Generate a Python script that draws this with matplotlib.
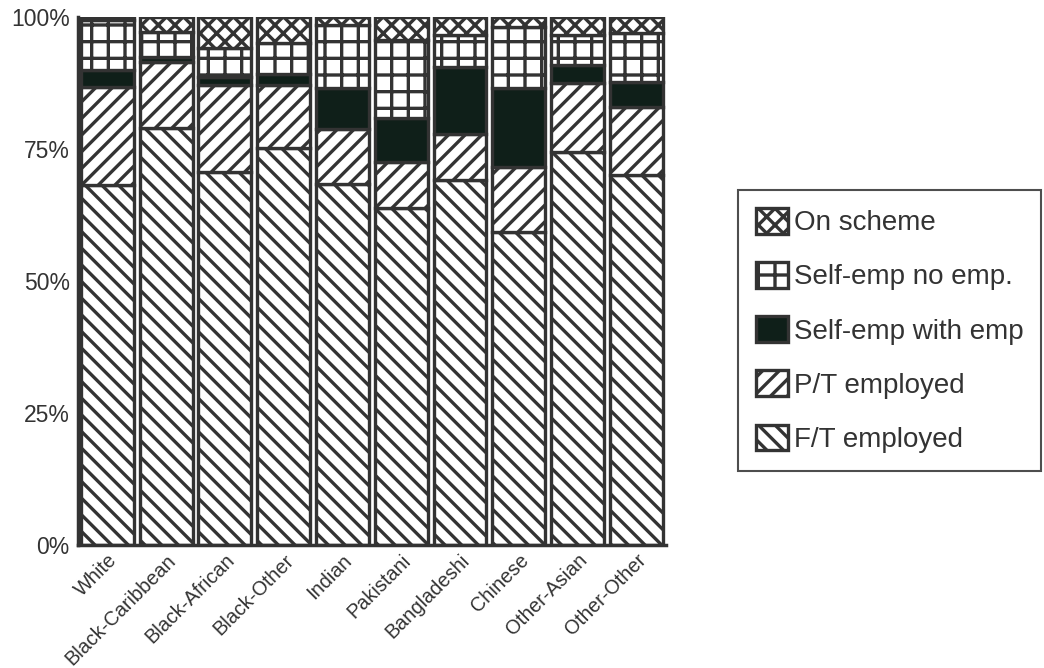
import matplotlib
matplotlib.use("Agg")
import matplotlib.pyplot as plt
import numpy as np

plt.rcParams['font.family'] = ['Liberation Sans', 'DejaVu Sans']
plt.rcParams['hatch.linewidth'] = 2.4

groups = ["White", "Black-Caribbean", "Black-African", "Black-Other", "Indian",
          "Pakistani", "Bangladeshi", "Chinese", "Other-Asian", "Other-Other"]

# percentages, bottom to top
ft_employed = [68.2, 79.0, 70.6, 75.2, 68.4, 63.8, 69.2, 59.3, 74.5, 70.1]
pt_employed = [18.5, 12.5, 16.5, 11.9, 10.4, 8.7, 8.6, 12.3, 13.0, 12.9]
selfemp_with = [3.3, 0.9, 1.5, 2.1, 7.8, 8.4, 12.7, 15.0, 3.4, 4.7]
selfemp_no = [9.5, 4.8, 5.5, 5.9, 11.9, 14.7, 6.1, 11.5, 5.7, 9.3]
on_scheme = [0.5, 2.8, 5.9, 4.9, 1.5, 4.4, 3.4, 1.9, 3.4, 3.0]

series = [
    ("F/T employed", ft_employed, "white", "\\\\"),
    ("P/T employed", pt_employed, "white", "//"),
    ("Self-emp with emp", selfemp_with, "#0f1f19", ""),
    ("Self-emp no emp.", selfemp_no, "white", "+"),
    ("On scheme", on_scheme, "white", "xx"),
]

edge = "#333333"
fig = plt.figure(figsize=(10.44, 6.68), dpi=100)
ax = fig.add_axes([0.0747, 0.184, 0.563, 0.7906])

x = np.arange(len(groups))
bottom = np.zeros(len(groups))
handles = []
for label, vals, fc, hatch in series:
    vals = np.array(vals)
    b = ax.bar(x, vals, 0.9, bottom=bottom, color=fc, edgecolor=edge,
               hatch=hatch, linewidth=2.4, label=label)
    handles.append(b)
    bottom += vals

ax.set_xlim(-0.5, len(groups) - 0.5)
ax.set_ylim(0, 100)
ax.set_yticks([0, 25, 50, 75, 100])
ax.set_yticklabels(["0%", "25%", "50%", "75%", "100%"], fontsize=16.5, color="#333333")
ax.set_xticks(x)
ax.set_xticklabels(groups, rotation=45, ha="right", rotation_mode="anchor",
                   fontsize=14.3, color="#333333")
ax.tick_params(axis="x", length=0, pad=4)
ax.tick_params(axis="y", length=0, pad=6)
for s in ["top", "right"]:
    ax.spines[s].set_visible(False)
for s in ["left", "bottom"]:
    ax.spines[s].set_linewidth(2.5)
    ax.spines[s].set_color(edge)

leg = fig.legend(handles[::-1], [s[0] for s in series][::-1],
                 loc="upper left", bbox_to_anchor=(0.707, 0.716),
                 fontsize=20, frameon=True, fancybox=False,
                 handlelength=1.15, handleheight=1.05, handletextpad=0.2,
                 labelspacing=0.93, borderpad=0.65, borderaxespad=0)
for t in leg.get_texts():
    t.set_color("#333333")
leg.get_frame().set_edgecolor("#222222")
leg.get_frame().set_linewidth(1.5)

fig.savefig("out.png", dpi=100, facecolor="white")
